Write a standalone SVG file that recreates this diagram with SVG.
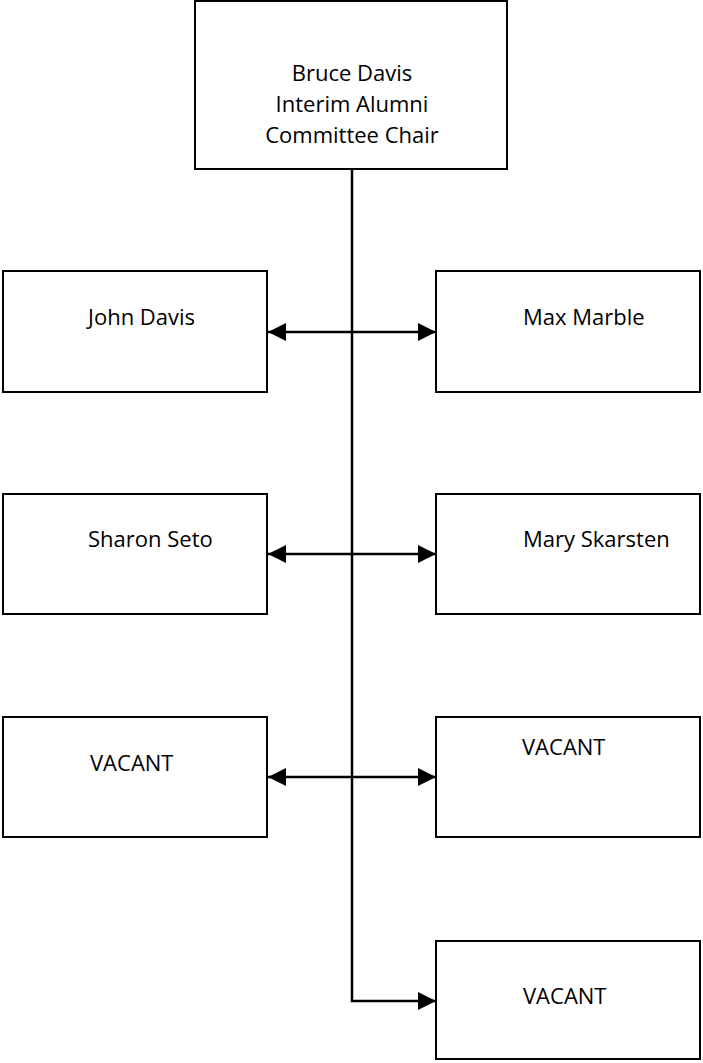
<svg xmlns="http://www.w3.org/2000/svg" width="703" height="1063" viewBox="0 0 703 1063">
<style>
.box{fill:#fff;stroke:#000;stroke-width:2}
.lbl{font-family:"Open Sans","Liberation Sans",sans-serif;font-size:22px;fill:#000}
.mid{text-anchor:middle}
.conn{fill:none;stroke:#000;stroke-width:2.5}
</style>
<defs>
<marker id="ah" viewBox="0 0 18 18" markerWidth="18" markerHeight="18" refX="18" refY="9" orient="auto-start-reverse" markerUnits="userSpaceOnUse">
<path d="M0,0 L18,9 L0,18 Z" fill="#000"/>
</marker>
</defs>
<rect width="703" height="1063" fill="#fff"/>
<g id="connectors">
<path class="conn" d="M352,169 V1001 H436" marker-end="url(#ah)"/>
<line class="conn" x1="268" y1="332" x2="436" y2="332" marker-start="url(#ah)" marker-end="url(#ah)"/>
<line class="conn" x1="268" y1="554" x2="436" y2="554" marker-start="url(#ah)" marker-end="url(#ah)"/>
<line class="conn" x1="268" y1="777" x2="436" y2="777" marker-start="url(#ah)" marker-end="url(#ah)"/>
</g>
<g id="bruce-davis">
<rect class="box" x="195" y="1" width="312" height="168"/>
<text class="lbl mid" x="352" y="81">Bruce Davis</text>
<text class="lbl mid" x="352" y="112">Interim Alumni</text>
<text class="lbl mid" x="352" y="143">Committee Chair</text>
</g>
<g id="john-davis">
<rect class="box" x="3" y="271" width="264" height="121"/>
<text class="lbl" x="88" y="325">John Davis</text>
</g>
<g id="max-marble">
<rect class="box" x="436" y="271" width="264" height="121"/>
<text class="lbl" x="523" y="325">Max Marble</text>
</g>
<g id="sharon-seto">
<rect class="box" x="3" y="494" width="264" height="120"/>
<text class="lbl" x="88" y="547">Sharon Seto</text>
</g>
<g id="mary-skarsten">
<rect class="box" x="436" y="494" width="264" height="120"/>
<text class="lbl" x="523" y="547">Mary Skarsten</text>
</g>
<g id="vacant-left">
<rect class="box" x="3" y="717" width="264" height="120"/>
<text class="lbl" x="90" y="771">VACANT</text>
</g>
<g id="vacant-right">
<rect class="box" x="436" y="717" width="264" height="120"/>
<text class="lbl" x="522" y="755">VACANT</text>
</g>
<g id="vacant-bottom">
<rect class="box" x="436" y="941" width="264" height="118"/>
<text class="lbl" x="523" y="1004">VACANT</text>
</g>
</svg>
